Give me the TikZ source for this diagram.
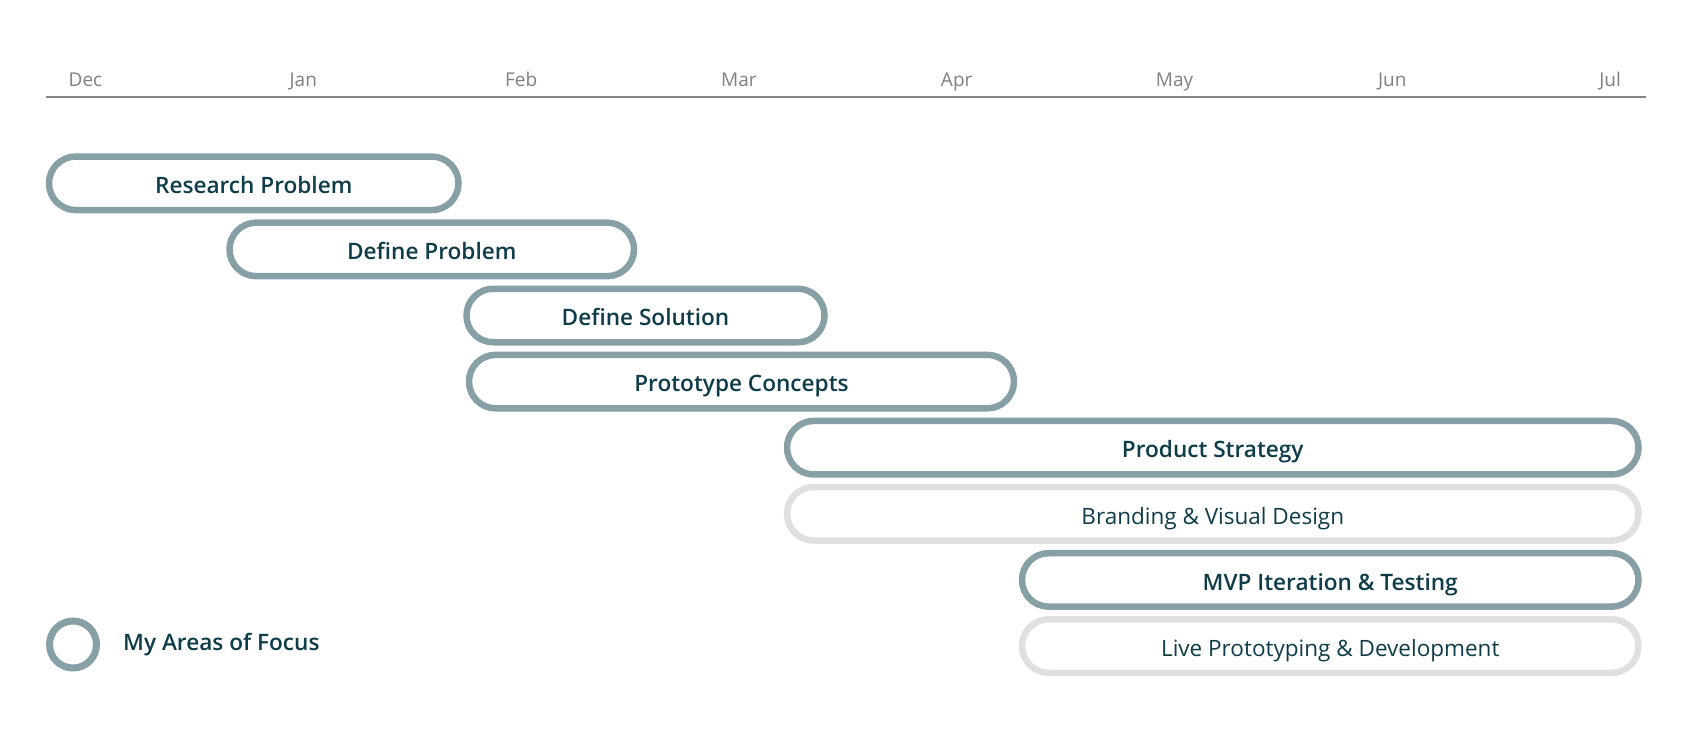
\documentclass[tikz,border=0pt]{standalone}
\usepackage{fontspec}
\setmainfont{Open Sans}[BoldFont={Open Sans Semibold}]
\usetikzlibrary{positioning}
\definecolor{focusline}{HTML}{86A0A6}
\definecolor{otherline}{HTML}{E0E0E0}
\definecolor{bartext}{HTML}{0E3C48}
\definecolor{monthtext}{HTML}{808080}
\definecolor{axisline}{HTML}{858585}
\newcommand{\firstrow}{183.3}
\newcommand{\rowstep}{66.1}
\newcommand{\monthstep}{217.8}
\tikzstyle{bar}=[
  draw,
  line width=6.5pt,
  rounded corners=26.7pt,
  minimum height=53.5pt,
  inner sep=0pt,
  text height=20.5pt,
  text depth=0pt,
  text=bartext,
  font=\fontsize{22.5}{26}\selectfont
]
\tikzstyle{focus}=[
  bar,
  draw=focusline,
  font=\fontsize{22.6}{26}\selectfont\bfseries
]
\tikzstyle{other}=[
  bar,
  draw=otherline
]
\tikzstyle{month}=[
  anchor=base,
  text=monthtext,
  font=\fontsize{19}{22}\selectfont
]
\tikzstyle{axis}=[
  draw=axisline,
  line width=2pt
]

\begin{document}
\begin{tikzpicture}[x=1pt, y=-1pt]
      \useasboundingbox (0,0) rectangle (1690,752);

      % month axis
      \node[month] (dec) at (85.5,               86) {Dec};
      \node[month] (jan) at (85.5+1*\monthstep,  86) {Jan};
      \node[month] (feb) at (85.5+2*\monthstep,  86) {Feb};
      \node[month] (mar) at (85.5+3*\monthstep,  86) {Mar};
      \node[month] (apr) at (85.5+4*\monthstep,  86) {Apr};
      \node[month] (may) at (85.5+5*\monthstep,  86) {May};
      \node[month] (jun) at (85.5+6*\monthstep,  86) {Jun};
      \node[month] (jul) at (85.5+7*\monthstep,  86) {Jul};
      \coordinate (axisl) at (46,   96.7);
      \coordinate (axisr) at (1646, 96.7);
      \draw[axis] (axisl) -- (axisr);

      % phases
      \node[focus, minimum width=409.5pt] (research)  at (253.75,  \firstrow)           {Research Problem};
      \node[focus, minimum width=404.5pt] (defprob)   at (431.75,  \firstrow+1*\rowstep) {Define Problem};
      \node[focus, minimum width=358pt  ] (defsol)    at (645.5,   \firstrow+2*\rowstep) {Define Solution};
      \node[focus, minimum width=545pt  ] (prototype) at (741.5,   \firstrow+3*\rowstep) {Prototype Concepts};
      \node[focus, minimum width=851.5pt] (strategy)  at (1212.75, \firstrow+4*\rowstep) {Product Strategy};
      \node[other, minimum width=851.5pt] (branding)  at (1212.75, \firstrow+5*\rowstep) {Branding \& Visual Design};
      \node[focus, minimum width=616.5pt] (mvp)       at (1330.25, \firstrow+6*\rowstep) {MVP Iteration \& Testing};
      \node[other, minimum width=616.5pt] (live)      at (1330.25, \firstrow+7*\rowstep) {Live Prototyping \& Development};

      % legend
      \node[circle, draw=focusline, line width=7pt, minimum size=47pt, inner sep=0pt] (legend) at (73, 644.5) {};
      \node[right=23pt of legend, inner sep=0pt, text height=12pt, text depth=0pt, text=bartext,
            font=\fontsize{22.6}{26}\selectfont\bfseries] (legendlabel) {My Areas of Focus};
    \end{tikzpicture}
\end{document}
